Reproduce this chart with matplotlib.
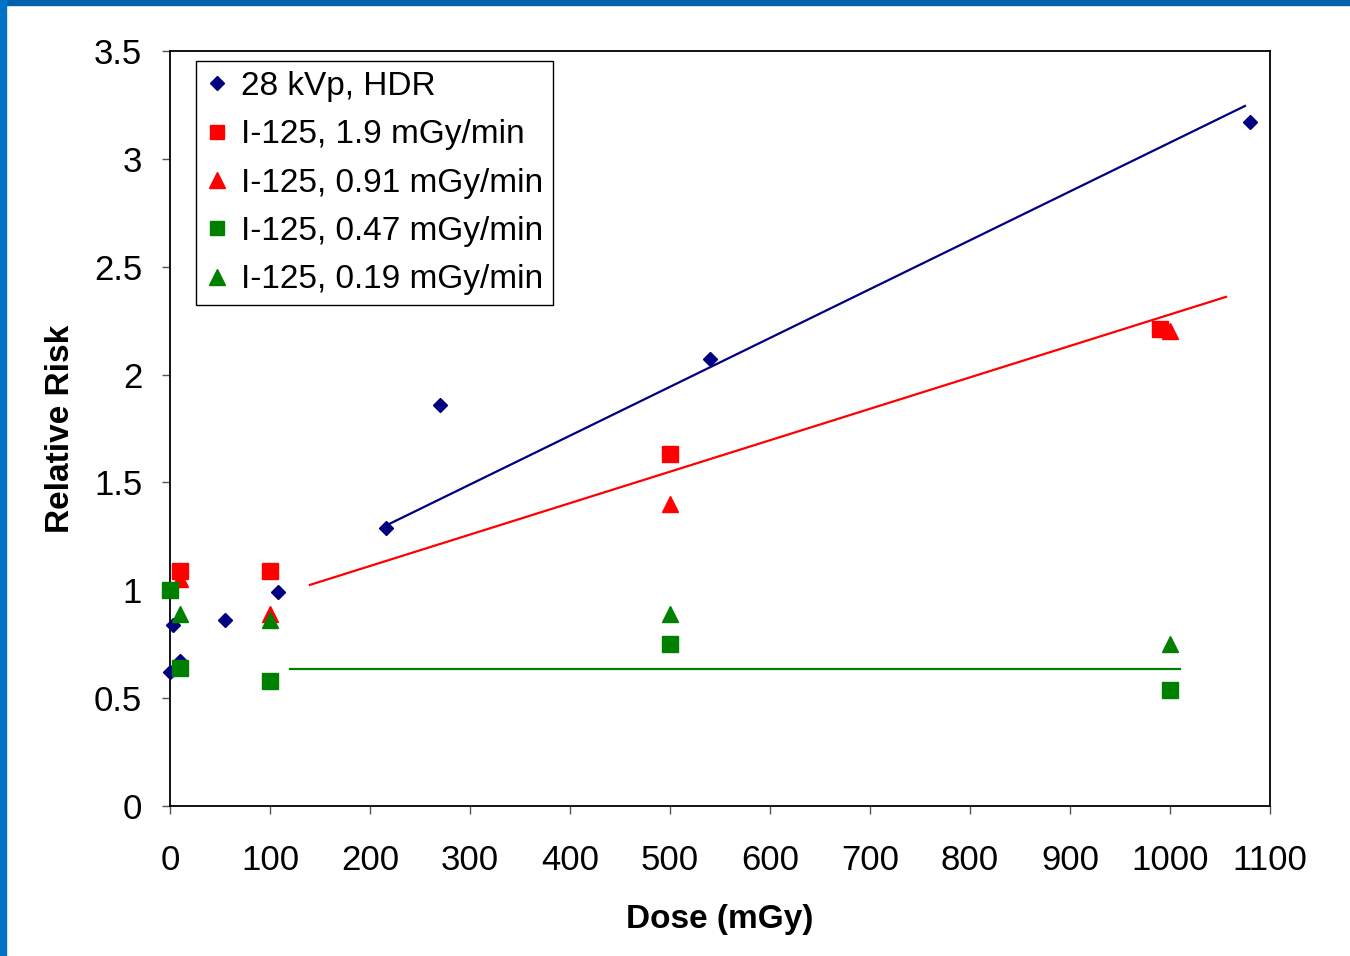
import matplotlib.pyplot as plt
from matplotlib.patches import Rectangle
from matplotlib.ticker import FuncFormatter

plt.rcParams['font.family'] = ['Liberation Sans', 'DejaVu Sans']

# data
hdr_x = [0, 3, 10, 55, 108, 216, 270, 540, 1080]
hdr_y = [0.62, 0.84, 0.67, 0.86, 0.99, 1.29, 1.86, 2.07, 3.17]

i19_x = [10, 100, 500, 990]
i19_y = [1.09, 1.09, 1.63, 2.21]

i091_x = [10, 100, 500, 1000]
i091_y = [1.05, 0.89, 1.40, 2.20]

i047_x = [0, 10, 100, 500, 1000]
i047_y = [1.00, 0.64, 0.58, 0.75, 0.54]

i019_x = [10, 100, 500, 1000]
i019_y = [0.89, 0.86, 0.89, 0.75]

# trend lines (start / end)
fit_hdr_x = [216, 1075]
fit_hdr_y = [1.30, 3.245]
fit_red_x = [140, 1056]
fit_red_y = [1.025, 2.36]
fit_green_x = [120, 1010]
fit_green_y = [0.635, 0.635]

navy = '#000080'
red = '#FF0000'
green = '#008000'

fig = plt.figure(figsize=(13.5, 9.56), dpi=100)
ax = fig.add_axes([0.1259, 0.1569, 0.8148, 0.7898])

# slide border
fig.patches.append(Rectangle((0, 0.9948), 1, 0.0052, transform=fig.transFigure,
                             color='#0062AE', zorder=0))
fig.patches.append(Rectangle((0, 0), 0.0045, 1, transform=fig.transFigure,
                             color='#0072C6', zorder=0))

ax.plot(fit_hdr_x, fit_hdr_y, color=navy, lw=1.6, zorder=2)
ax.plot(fit_red_x, fit_red_y, color=red, lw=1.6, zorder=2)
ax.plot(fit_green_x, fit_green_y, color=green, lw=1.6, zorder=2)

ax.plot(hdr_x, hdr_y, 'D', color=navy, ms=7, ls='none', label='28 kVp, HDR', zorder=3, clip_on=False)
ax.plot(i19_x, i19_y, 's', color=red, ms=11, ls='none', label='I-125, 1.9 mGy/min', zorder=3, clip_on=False)
ax.plot(i091_x, i091_y, '^', color=red, ms=12, ls='none', label='I-125, 0.91 mGy/min', zorder=3, clip_on=False)
ax.plot(i047_x, i047_y, 's', color=green, ms=11, ls='none', label='I-125, 0.47 mGy/min', zorder=4, clip_on=False)
ax.plot(i019_x, i019_y, '^', color=green, ms=12, ls='none', label='I-125, 0.19 mGy/min', zorder=4, clip_on=False)

ax.set_xlim(0, 1100)
ax.set_ylim(0, 3.5)
ax.set_xticks(range(0, 1101, 100))
ax.set_yticks([0, 0.5, 1, 1.5, 2, 2.5, 3, 3.5])
ax.yaxis.set_major_formatter(FuncFormatter(lambda v, p: '%g' % v))
ax.tick_params(direction='out', length=6, width=1, labelsize=25, color='#555555')
ax.tick_params(axis='x', pad=21)
ax.tick_params(axis='y', pad=14)
for s in ax.spines.values():
    s.set_linewidth(1.3)
    s.set_color('black')

ax.set_xlabel('Dose (mGy)', fontsize=24, fontweight='bold', labelpad=20)
ax.set_ylabel('Relative Risk', fontsize=24, fontweight='bold', labelpad=13)

leg = ax.legend(loc='upper left', bbox_to_anchor=(0.0236, 0.9868), borderaxespad=0,
                fontsize=24, frameon=True, fancybox=False, framealpha=1,
                edgecolor='black', handlelength=0.65, handletextpad=0.4,
                labelspacing=0.52, borderpad=0.3, markerscale=0.95)
leg.get_frame().set_linewidth(1.0)

fig.savefig('out.png', dpi=100)
